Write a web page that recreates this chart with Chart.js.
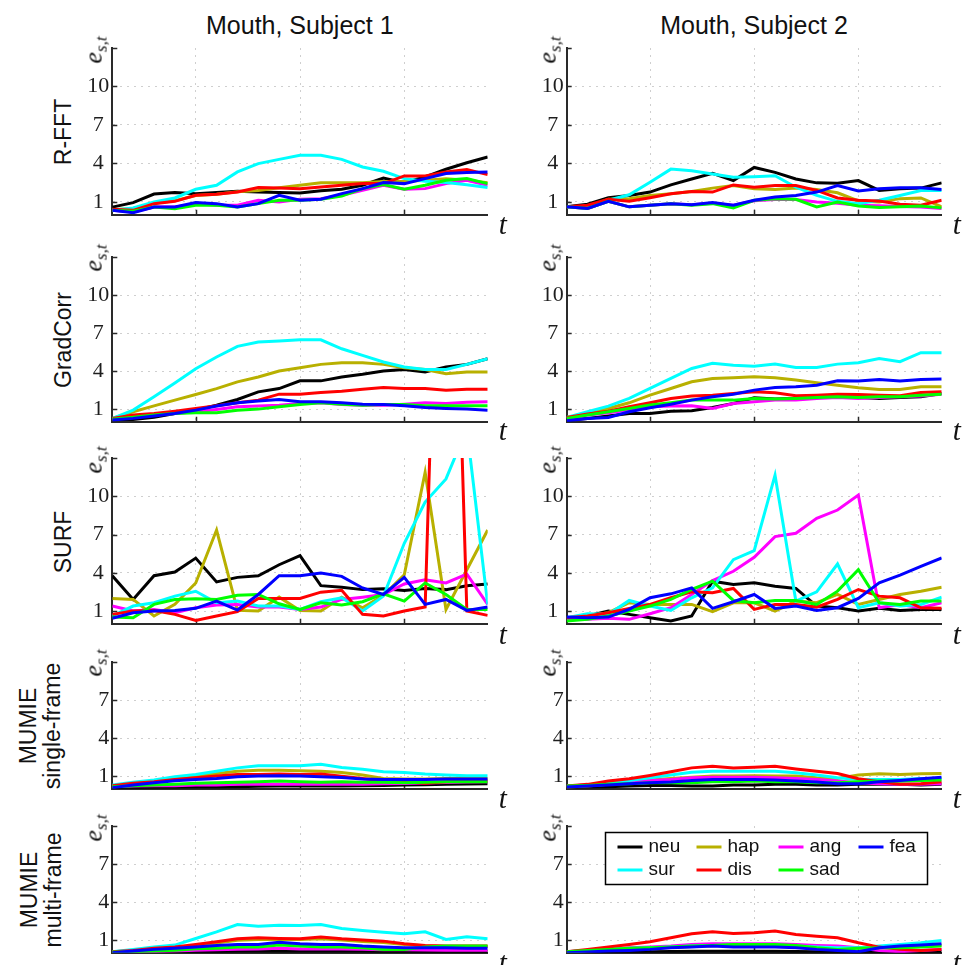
<!DOCTYPE html>
<html lang="en">
<head>
<meta charset="UTF-8">
<title>Mouth error curves</title>
<script src="https://cdn.jsdelivr.net/npm/chart.js@4"></script>
<style>
  body { margin: 0; background: #fff; }
  #fig { position: relative; width: 971px; height: 965px; overflow: hidden; }
  #fig canvas { position: absolute; }
  .lbl { position: absolute; white-space: nowrap; color: #111; }
  .title { font: 25px "Liberation Sans", Arial, sans-serif; }
  .method { font: 23px "Liberation Sans", Arial, sans-serif; line-height: 24px; text-align: center; }
  .ylab { font: italic 26px "Liberation Serif", serif; line-height: 28px; }
  .ylab sub { font-size: 17px; vertical-align: -5px; }
  .tlab { font: italic 29px "Liberation Serif", serif; line-height: 30px; }
</style>
</head>
<body>
<div id="fig"></div>
<script>
// ---- data ----
const tValues = [2, 4, 6, 8, 10, 12, 14, 16, 18, 20, 22, 24, 26, 28, 30, 32, 34, 36, 38];
const emotions = ['neu', 'hap', 'ang', 'fea', 'sur', 'dis', 'sad'];
const emoColors = ['#000000', '#b8b000', '#ff00ff', '#0000ff', '#00ffff', '#ff0000', '#00ff00'];
const subjects = ['Mouth, Subject 1', 'Mouth, Subject 2'];
const methods = [['R-FFT'], ['GradCorr'], ['SURF'], ['MUMIE', 'single-frame'], ['MUMIE', 'multi-frame']];
const yTicksTall = [1, 4, 7, 10];
const yTicksShort = [1, 4, 7];
const xTicks = [10, 20, 30];

// each panel: one row per emotion, same order as `emotions`
const rfftS1 = [
  [0.6, 0.95, 1.62, 1.73, 1.65, 1.73, 1.83, 1.78, 1.73, 1.7, 1.88, 1.99, 2.3, 2.87, 2.5, 2.95, 3.55, 4.06, 4.5],
  [0.4, 0.5, 0.9, 1.1, 1.5, 1.6, 1.8, 1.9, 2.1, 2.3, 2.5, 2.5, 2.5, 2.6, 2.6, 2.7, 2.8, 2.7, 2.5],
  [0.35, 0.22, 0.61, 0.61, 0.87, 0.74, 0.74, 1.13, 1.0, 1.21, 1.26, 1.52, 1.91, 2.3, 1.99, 2.04, 2.43, 2.69, 2.3],
  [0.35, 0.17, 0.61, 0.61, 0.95, 0.87, 0.61, 0.87, 1.52, 1.13, 1.21, 1.65, 2.04, 2.51, 2.43, 2.82, 3.21, 3.29, 3.34],
  [0.35, 0.53, 1.0, 1.31, 1.99, 2.3, 3.34, 3.99, 4.32, 4.64, 4.64, 4.32, 3.73, 3.39, 2.82, 2.61, 2.51, 2.35, 2.12],
  [0.43, 0.35, 0.87, 1.05, 1.52, 1.6, 1.78, 2.12, 2.09, 2.04, 2.17, 2.3, 2.43, 2.43, 3.03, 3.03, 3.34, 3.52, 3.13],
  [0.35, 0.27, 0.61, 0.48, 0.74, 0.74, 0.61, 0.87, 1.13, 1.13, 1.21, 1.47, 2.04, 2.35, 1.99, 2.3, 2.69, 2.82, 2.43]
];
const rfftS2 = [
  [0.62, 0.82, 1.33, 1.51, 1.77, 2.33, 2.79, 3.23, 2.67, 3.69, 3.31, 2.79, 2.49, 2.46, 2.67, 1.9, 2.03, 2.08, 2.49],
  [0.62, 0.62, 1.21, 1.26, 1.51, 1.64, 1.82, 2.08, 2.28, 2.03, 1.97, 2.08, 1.97, 1.72, 1.08, 1.0, 1.26, 1.31, 0.62],
  [0.62, 0.49, 1.05, 0.62, 0.74, 0.87, 0.79, 0.9, 0.74, 1.1, 1.2, 1.2, 1.0, 0.9, 0.74, 0.7, 0.65, 0.6, 0.49],
  [0.62, 0.49, 1.05, 0.62, 0.74, 0.87, 0.79, 0.95, 0.74, 1.13, 1.38, 1.51, 1.77, 2.28, 1.85, 2.03, 2.1, 2.1, 1.97],
  [0.62, 0.62, 1.13, 1.56, 2.54, 3.56, 3.44, 3.18, 2.92, 2.97, 3.05, 2.15, 1.51, 1.05, 0.87, 1.13, 1.51, 1.9, 1.9],
  [0.62, 0.74, 1.21, 1.05, 1.33, 1.64, 1.82, 1.77, 2.33, 2.15, 2.28, 2.28, 1.9, 1.31, 1.13, 1.08, 0.82, 0.74, 1.13],
  [0.62, 0.49, 1.05, 0.62, 0.74, 0.87, 0.74, 0.87, 0.54, 1.13, 1.26, 1.21, 0.62, 1.0, 0.69, 0.56, 0.62, 0.69, 0.54]
];
const gradS1 = [
  [0.19, 0.19, 0.35, 0.66, 0.92, 1.31, 1.76, 2.36, 2.62, 3.23, 3.23, 3.54, 3.75, 4.01, 4.12, 3.93, 4.32, 4.53, 4.98],
  [0.27, 0.79, 1.26, 1.71, 2.15, 2.62, 3.15, 3.54, 4.01, 4.27, 4.53, 4.66, 4.66, 4.53, 4.27, 4.12, 3.8, 3.93, 3.93],
  [0.21, 0.35, 0.53, 0.66, 0.79, 0.97, 1.18, 1.24, 1.31, 1.45, 1.5, 1.37, 1.31, 1.31, 1.39, 1.5, 1.45, 1.55, 1.58],
  [0.14, 0.27, 0.45, 0.66, 0.92, 1.24, 1.5, 1.65, 1.76, 1.58, 1.58, 1.5, 1.39, 1.37, 1.26, 1.13, 1.05, 1.0, 0.92],
  [0.27, 0.92, 1.97, 3.07, 4.19, 5.11, 5.95, 6.29, 6.37, 6.47, 6.47, 5.76, 5.24, 4.72, 4.32, 4.12, 4.12, 4.53, 4.98],
  [0.27, 0.53, 0.66, 0.84, 1.05, 1.26, 1.5, 1.71, 2.18, 2.18, 2.31, 2.41, 2.57, 2.7, 2.62, 2.62, 2.49, 2.57, 2.57],
  [0.21, 0.35, 0.53, 0.66, 0.71, 0.71, 0.92, 1.0, 1.18, 1.37, 1.5, 1.39, 1.31, 1.37, 1.37, 1.26, 1.26, 1.26, 1.26]
];
const gradS2 = [
  [0.13, 0.26, 0.45, 0.66, 0.66, 0.84, 0.87, 1.13, 1.45, 1.89, 1.79, 1.84, 1.97, 1.97, 1.92, 1.84, 1.92, 1.97, 2.24],
  [0.34, 0.61, 1.05, 1.5, 2.1, 2.63, 3.16, 3.42, 3.47, 3.55, 3.47, 3.29, 3.08, 2.89, 2.68, 2.55, 2.55, 2.76, 2.76],
  [0.26, 0.53, 0.71, 0.92, 1.18, 1.24, 1.26, 1.05, 1.45, 1.58, 1.71, 1.71, 1.84, 1.92, 1.84, 1.92, 1.97, 2.03, 2.18],
  [0.08, 0.26, 0.34, 0.79, 1.11, 1.39, 1.71, 1.97, 2.18, 2.5, 2.71, 2.76, 2.89, 3.24, 3.21, 3.34, 3.21, 3.34, 3.37],
  [0.34, 0.79, 1.24, 1.84, 2.63, 3.42, 4.21, 4.61, 4.47, 4.39, 4.55, 4.29, 4.29, 4.55, 4.66, 5.0, 4.74, 5.45, 5.45],
  [0.34, 0.61, 0.84, 1.18, 1.5, 1.84, 2.03, 2.1, 2.24, 2.37, 2.29, 2.05, 2.1, 2.18, 2.16, 2.1, 2.05, 2.32, 2.37],
  [0.26, 0.53, 0.79, 1.05, 1.32, 1.5, 1.71, 1.71, 1.71, 1.84, 1.79, 1.84, 1.92, 1.97, 1.92, 1.97, 1.97, 2.1, 2.18]
];
const surfS1 = [
  [3.77, 1.91, 3.77, 4.06, 5.15, 3.28, 3.64, 3.77, 4.63, 5.35, 2.99, 2.87, 2.68, 2.74, 2.61, 2.76, 2.68, 2.99, 3.12],
  [1.98, 1.91, 0.61, 1.52, 3.2, 7.35, 1.05, 1.0, 2.09, 1.05, 1.0, 2.09, 1.26, 2.24, 3.85, 11.88, 1.13, 4.24, 7.35],
  [1.39, 1.0, 1.13, 0.87, 1.26, 1.47, 1.52, 1.31, 1.31, 1.13, 1.31, 1.91, 2.09, 2.3, 3.12, 3.46, 3.2, 3.9, 1.52],
  [0.43, 0.87, 1.0, 1.05, 1.21, 1.78, 1.08, 2.3, 3.77, 3.77, 3.98, 3.72, 2.81, 2.3, 3.64, 1.52, 1.91, 1.05, 1.31],
  [0.61, 1.39, 1.65, 2.17, 2.55, 1.65, 1.78, 1.39, 1.39, 1.13, 1.73, 2.04, 1.0, 2.17, 6.31, 9.55, 11.36, 15.3, 1.52],
  [0.74, 1.0, 1.05, 0.74, 0.27, 0.61, 0.95, 1.98, 1.98, 1.98, 2.48, 2.63, 0.74, 0.61, 1.0, 1.31, 55, 1.0, 0.66],
  [0.53, 0.48, 1.52, 1.91, 1.96, 1.91, 2.24, 2.3, 1.57, 1.13, 1.65, 1.47, 1.73, 2.35, 1.78, 3.2, 2.3, 1.13, 1.13]
];
const surfS2 = [
  [0.48, 0.61, 1.0, 0.74, 0.48, 0.22, 0.61, 3.34, 3.08, 3.21, 2.95, 2.77, 1.39, 1.26, 1.0, 1.21, 1.05, 1.13, 1.13],
  [0.43, 0.61, 0.87, 1.65, 1.52, 1.52, 1.52, 0.95, 1.65, 1.65, 1.0, 1.78, 1.65, 2.3, 1.52, 1.91, 2.3, 2.56, 2.87],
  [0.35, 0.35, 0.43, 0.35, 0.79, 1.26, 2.3, 3.39, 4.12, 5.21, 6.84, 7.1, 8.27, 8.92, 10.09, 1.26, 1.52, 1.26, 1.65],
  [0.53, 0.48, 0.53, 1.13, 2.04, 2.35, 2.82, 1.21, 1.73, 2.3, 1.21, 1.39, 1.05, 1.26, 1.99, 3.21, 3.81, 4.51, 5.16],
  [0.48, 0.79, 0.74, 1.83, 1.39, 1.05, 2.04, 2.82, 5.03, 5.73, 11.65, 1.78, 2.51, 4.69, 1.26, 1.65, 1.39, 1.52, 2.09],
  [0.48, 0.61, 0.87, 1.21, 1.52, 2.04, 2.51, 2.43, 2.77, 1.13, 1.52, 1.52, 1.31, 1.91, 2.69, 2.17, 2.04, 1.26, 1.21],
  [0.22, 0.35, 0.61, 1.0, 1.39, 1.91, 2.69, 3.34, 1.83, 1.65, 1.83, 1.83, 1.52, 2.56, 4.25, 1.65, 1.52, 1.78, 1.78]
];
const mumieSingleS1 = [
  [0.1, 0.1, 0.12, 0.12, 0.15, 0.15, 0.17, 0.2, 0.22, 0.22, 0.22, 0.22, 0.25, 0.27, 0.3, 0.32, 0.35, 0.37, 0.4],
  [0.25, 0.43, 0.61, 0.77, 0.95, 1.21, 1.39, 1.47, 1.47, 1.42, 1.39, 1.29, 1.08, 0.82, 0.77, 0.77, 0.82, 0.82, 0.82],
  [0.17, 0.22, 0.25, 0.25, 0.3, 0.3, 0.35, 0.35, 0.35, 0.35, 0.35, 0.35, 0.35, 0.4, 0.42, 0.45, 0.5, 0.53, 0.56],
  [0.09, 0.3, 0.48, 0.64, 0.74, 0.82, 0.95, 1.0, 1.03, 1.0, 0.95, 0.9, 0.77, 0.74, 0.74, 0.74, 0.77, 0.77, 0.77],
  [0.3, 0.51, 0.69, 0.95, 1.13, 1.39, 1.65, 1.81, 1.81, 1.81, 1.94, 1.68, 1.55, 1.34, 1.29, 1.16, 1.08, 1.03, 1.03],
  [0.25, 0.43, 0.56, 0.74, 0.87, 1.0, 1.13, 1.13, 1.16, 1.13, 1.16, 1.0, 0.82, 0.61, 0.56, 0.43, 0.56, 0.61, 0.61],
  [0.17, 0.25, 0.3, 0.35, 0.43, 0.48, 0.51, 0.56, 0.61, 0.56, 0.51, 0.56, 0.51, 0.51, 0.48, 0.51, 0.56, 0.56, 0.56]
];
const mumieSingleS2 = [
  [0.14, 0.14, 0.17, 0.22, 0.27, 0.27, 0.22, 0.22, 0.3, 0.3, 0.35, 0.35, 0.3, 0.3, 0.35, 0.35, 0.35, 0.3, 0.35],
  [0.14, 0.22, 0.35, 0.53, 0.69, 0.82, 0.92, 1.0, 1.0, 1.03, 1.0, 1.0, 0.87, 0.82, 1.08, 1.18, 1.13, 1.18, 1.21],
  [0.22, 0.3, 0.43, 0.56, 0.66, 0.74, 0.87, 0.92, 0.92, 0.92, 0.87, 0.82, 0.74, 0.61, 0.48, 0.4, 0.35, 0.35, 0.4],
  [0.14, 0.22, 0.3, 0.4, 0.48, 0.53, 0.66, 0.74, 0.74, 0.74, 0.69, 0.61, 0.53, 0.4, 0.4, 0.56, 0.66, 0.79, 0.92],
  [0.22, 0.3, 0.48, 0.66, 0.87, 1.08, 1.31, 1.39, 1.39, 1.39, 1.39, 1.26, 1.08, 0.87, 0.74, 0.74, 0.74, 0.82, 0.82],
  [0.22, 0.35, 0.61, 0.79, 1.05, 1.34, 1.65, 1.78, 1.65, 1.7, 1.78, 1.57, 1.39, 1.21, 0.79, 0.56, 0.35, 0.4, 0.56],
  [0.22, 0.27, 0.35, 0.4, 0.48, 0.48, 0.48, 0.56, 0.56, 0.61, 0.56, 0.56, 0.48, 0.48, 0.56, 0.61, 0.61, 0.66, 0.69]
];
const mumieMultiS1 = [
  [0.05, 0.05, 0.06, 0.08, 0.1, 0.1, 0.12, 0.12, 0.12, 0.12, 0.12, 0.12, 0.12, 0.1, 0.1, 0.1, 0.1, 0.1, 0.1],
  [0.08, 0.17, 0.3, 0.4, 0.58, 0.77, 0.98, 1.05, 1.05, 1.05, 1.1, 1.0, 0.9, 0.82, 0.66, 0.55, 0.5, 0.5, 0.5],
  [0.06, 0.08, 0.1, 0.14, 0.2, 0.25, 0.28, 0.3, 0.35, 0.3, 0.3, 0.3, 0.28, 0.25, 0.25, 0.22, 0.2, 0.2, 0.2],
  [0.0, 0.14, 0.27, 0.35, 0.45, 0.58, 0.66, 0.66, 0.84, 0.71, 0.66, 0.66, 0.53, 0.45, 0.4, 0.4, 0.4, 0.35, 0.35],
  [0.08, 0.27, 0.45, 0.61, 1.13, 1.65, 2.23, 2.1, 2.18, 2.15, 2.23, 1.92, 1.76, 1.63, 1.5, 1.65, 1.05, 1.26, 1.1],
  [0.08, 0.19, 0.35, 0.45, 0.66, 0.87, 1.1, 1.18, 1.13, 1.1, 1.24, 1.1, 1.0, 0.92, 0.71, 0.58, 0.53, 0.53, 0.53],
  [0.06, 0.08, 0.14, 0.21, 0.32, 0.35, 0.45, 0.45, 0.61, 0.53, 0.45, 0.45, 0.4, 0.27, 0.27, 0.45, 0.53, 0.53, 0.53]
];
const mumieMultiS2 = [
  [0.02, 0.03, 0.05, 0.06, 0.08, 0.1, 0.12, 0.12, 0.12, 0.12, 0.12, 0.1, 0.08, 0.06, 0.06, 0.06, 0.08, 0.08, 0.1],
  [0.08, 0.15, 0.22, 0.3, 0.35, 0.42, 0.5, 0.55, 0.58, 0.6, 0.6, 0.55, 0.45, 0.35, 0.4, 0.45, 0.5, 0.55, 0.6],
  [0.08, 0.19, 0.27, 0.4, 0.45, 0.53, 0.66, 0.71, 0.71, 0.71, 0.71, 0.66, 0.58, 0.53, 0.4, 0.19, 0.08, 0.19, 0.27],
  [0.0, 0.06, 0.14, 0.19, 0.27, 0.4, 0.45, 0.53, 0.45, 0.45, 0.45, 0.4, 0.27, 0.19, 0.08, 0.4, 0.53, 0.61, 0.71],
  [0.08, 0.19, 0.27, 0.35, 0.4, 0.45, 0.53, 0.58, 0.61, 0.61, 0.61, 0.53, 0.45, 0.4, 0.4, 0.53, 0.66, 0.79, 0.97],
  [0.08, 0.27, 0.45, 0.66, 0.87, 1.18, 1.5, 1.65, 1.52, 1.58, 1.71, 1.45, 1.31, 1.18, 0.79, 0.45, 0.27, 0.19, 0.27],
  [0.08, 0.19, 0.27, 0.35, 0.4, 0.45, 0.53, 0.58, 0.66, 0.66, 0.66, 0.58, 0.4, 0.27, 0.35, 0.4, 0.4, 0.45, 0.53]
];

const panelData = [
  [rfftS1, rfftS2],
  [gradS1, gradS2],
  [surfS1, surfS2],
  [mumieSingleS1, mumieSingleS2],
  [mumieMultiS1, mumieMultiS2]
];
const rowYMax = [13, 13, 13, 10, 10];
// first = drawn on top
const stackTopFirst = ['fea', 'sad', 'dis', 'sur', 'ang', 'hap', 'neu'];

// ---- layout (pixels) ----
const colLeft = [112.3, 566.7], colRight = [487.7, 941.7];
const canvasLeft = [60, 520], canvasW = 440;
const rowTop = [48, 256.7, 458.3, 661.7, 826];
const rowBottom = [216, 422.3, 625.7, 790, 954.3];
const padTop = 20, padBottom = 15;
const axisColor = '#2a2a2a';

const fig = document.getElementById('fig');

function addLabel(html, cls, cx, cy, rotate) {
  const d = document.createElement('div');
  d.className = 'lbl ' + cls;
  d.innerHTML = html;
  fig.appendChild(d);
  const w = d.offsetWidth, h = d.offsetHeight;
  d.style.left = (cx - w / 2) + 'px';
  d.style.top = (cy - h / 2) + 'px';
  if (rotate) d.style.transform = 'rotate(-90deg)';
  return { w, h, el: d };
}

// short inward tick marks on both axes
const innerTicks = {
  id: 'innerTicks',
  beforeDatasetsDraw(chart) {
    const { ctx, chartArea: a, scales: { x, y } } = chart;
    ctx.save();
    ctx.strokeStyle = axisColor;
    ctx.lineWidth = 1.5;
    ctx.beginPath();
    y.ticks.concat([{ value: y.max }]).forEach(t => {
      const py = Math.round(y.getPixelForValue(t.value)) + 0.5;
      ctx.moveTo(a.left, py); ctx.lineTo(a.left + 5, py);
    });
    x.ticks.forEach(t => {
      const px = Math.round(x.getPixelForValue(t.value)) + 0.5;
      ctx.moveTo(px, a.bottom); ctx.lineTo(px, a.bottom - 5);
    });
    ctx.stroke();
    ctx.restore();
  }
};

// boxed legend, two rows of four, drawn inside the last panel
const boxLegend = {
  id: 'boxLegend',
  afterDatasetsDraw(chart) {
    const { ctx, chartArea: a } = chart;
    const bx = Math.round(a.left + 38) + 0.5, by = Math.round(a.top + 6) + 0.5;
    const bw = 322, bh = 52;
    const colX = [12, 91, 173, 253], rowY = [14.5, 37.5];
    ctx.save();
    ctx.fillStyle = '#fff';
    ctx.fillRect(bx, by, bw, bh);
    ctx.strokeStyle = '#000';
    ctx.lineWidth = 1.5;
    ctx.strokeRect(bx, by, bw, bh);
    ctx.font = '19px "Liberation Sans", Arial, sans-serif';
    ctx.textBaseline = 'middle';
    emotions.forEach((name, i) => {
      const ds = chart.data.datasets.find(d => d.label === name);
      const lx = bx + colX[i % 4], ly = by + rowY[Math.floor(i / 4)];
      ctx.strokeStyle = ds.borderColor;
      ctx.lineWidth = 3;
      ctx.beginPath(); ctx.moveTo(lx, ly); ctx.lineTo(lx + 25, ly); ctx.stroke();
      ctx.fillStyle = '#111';
      ctx.fillText(name, lx + 31, ly);
    });
    ctx.restore();
  }
};

function makePanel(row, col) {
  const series = panelData[row][col];
  const canvas = document.createElement('canvas');
  const top = rowTop[row] - padTop;
  const height = rowBottom[row] - rowTop[row] + padTop + padBottom;
  canvas.width = canvasW;
  canvas.height = Math.round(height);
  canvas.style.left = canvasLeft[col] + 'px';
  canvas.style.top = top + 'px';
  fig.appendChild(canvas);

  const yW = colLeft[col] - canvasLeft[col];
  const padRight = canvasLeft[col] + canvasW - colRight[col];
  const ticks = rowYMax[row] > 10 ? yTicksTall : yTicksShort;

  const datasets = stackTopFirst.map(name => {
    const k = emotions.indexOf(name);
    return {
      label: name,
      data: series[k].map((v, i) => ({ x: tValues[i], y: v })),
      borderColor: emoColors[k],
      backgroundColor: emoColors[k],
      borderWidth: 3,
      pointRadius: 0,
      tension: 0,
      fill: false
    };
  });

  new Chart(canvas, {
    type: 'line',
    data: { datasets },
    options: {
      responsive: false,
      animation: false,
      devicePixelRatio: 1,
      layout: { padding: { left: 0, right: padRight, top: padTop, bottom: padBottom } },
      plugins: { legend: { display: false }, tooltip: { enabled: false } },
      scales: {
        x: {
          type: 'linear',
          min: tValues[0],
          max: tValues[tValues.length - 1],
          afterBuildTicks: s => { s.ticks = xTicks.map(v => ({ value: v })); },
          afterFit: s => { s.height = 0; },
          ticks: { display: false },
          grid: { color: '#cfcfcf', lineWidth: 1, drawTicks: false },
          border: { color: axisColor, width: 2, dash: [2, 5] }
        },
        y: {
          min: 0,
          max: rowYMax[row],
          afterBuildTicks: s => { s.ticks = ticks.map(v => ({ value: v })); },
          afterFit: s => { s.width = yW; },
          ticks: {
            padding: 3,
            crossAlign: 'center',
            color: '#1e1e1e',
            font: { family: '"Liberation Serif", serif', size: 22 }
          },
          grid: { color: '#cfcfcf', lineWidth: 1, drawTicks: false },
          border: { color: axisColor, width: 2, dash: [2, 5] }
        }
      }
    },
    plugins: row === 4 && col === 1 ? [innerTicks, boxLegend] : [innerTicks]
  });

  // axis titles
  const yl = addLabel('<i>e</i><sub>s,t</sub>', 'ylab', 0, 0, true);
  yl.el.style.left = (colLeft[col] - 15 - yl.w / 2) + 'px';
  yl.el.style.top = (rowTop[row] + 15 - yl.w / 2 - yl.h / 2) + 'px';
  addLabel('<i>t</i>', 'tlab', colRight[col] + 15, rowBottom[row] + 8, false);
}

subjects.forEach((s, c) => addLabel(s, 'title', (colLeft[c] + colRight[c]) / 2, 25, false));
methods.forEach((lines, r) => {
  const cx = lines.length > 1 ? 40 : 63;
  addLabel(lines.join('<br>'), 'method', cx, (rowTop[r] + rowBottom[r]) / 2, true);
});
for (let r = 0; r < 5; r++) {
  for (let c = 0; c < 2; c++) makePanel(r, c);
}
</script>
</body>
</html>
